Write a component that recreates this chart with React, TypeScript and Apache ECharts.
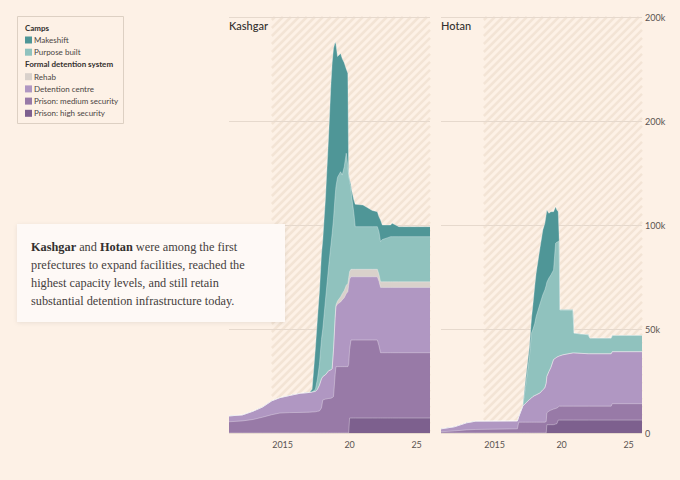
import React, { useEffect, useRef } from "react";
import * as echarts from "echarts";

// ---------- data ----------
const LAYER_NAMES = [
  "Prison: high security",
  "Prison: medium security",
  "Detention centre",
  "Rehab",
  "Purpose built",
  "Makeshift",
];
const LAYER_COLORS = ["#7d608e", "#987aa7", "#b097c2", "#d9d1cb", "#90c2be", "#4f9697"];

const CAMP_LEGEND = ["Makeshift", "Purpose built"];
const FORMAL_LEGEND = ["Rehab", "Detention centre", "Prison: medium security", "Prison: high security"];

const PANEL_TITLES = ["Kashgar", "Hotan"];

const X_TICKS = [2015, 2020, 2025];
const X_TICK_LABELS = ["2015", "20", "25"];
const Y_TICKS = [0, 50, 100, 150, 200];
const Y_TICK_LABELS = ["0", "50k", "100k", "200k", "200k"];

const X_MIN = 2011;
const X_MAX = 2026;
const Y_MAX = 200;
const HATCH_START = 2014.2;

// Kashgar (thousands of places, per layer)
const KASHGAR_YEARS = [
  2011.0, 2012.0, 2012.8, 2013.5, 2014.2, 2014.8, 2015.5, 2016.3, 2017.0, 2017.2,
  2017.45, 2017.6, 2017.75, 2017.9, 2018.0, 2018.2, 2018.45, 2018.6, 2018.7, 2018.8,
  2018.92, 2018.98, 2019.1, 2019.33, 2019.45, 2019.6, 2019.75, 2019.87, 2019.93, 2020.0,
  2020.1, 2020.15, 2020.32, 2020.42, 2021.0, 2021.69, 2022.07, 2022.19, 2022.31, 2022.44,
  2022.8, 2023.06, 2023.18, 2023.68, 2026.0,
];
const KASHGAR_HIGH = [
  0, 0, 0, 0, 0, 0, 0, 0, 0, 0,
  0, 0, 0, 0, 0, 0, 0, 0, 0, 0,
  0, 0, 0, 0, 0, 0, 0, 0, 0, 7.2,
  7.2, 7.2, 7.2, 7.2, 7.2, 7.2, 7.2, 7.2, 7.2, 7.2,
  7.2, 7.2, 7.2, 7.2, 7.2,
];
const KASHGAR_MEDIUM = [
  5.4, 5.8, 6.5, 7.6, 8.8, 9.6, 9.8, 9.9, 10.0, 10.1,
  10.2, 10.4, 10.6, 12, 15.9, 16.3, 16.6, 16.7, 17, 17.5,
  28, 31.9, 31.9, 31.9, 31.9, 31.9, 31.9, 31.9, 33, 32.8,
  37.5, 37.5, 37.5, 37.5, 37.5, 37.5, 37.5, 34.8, 31.4, 31.4,
  31.4, 31.4, 31.4, 31.4, 31.4,
];
const KASHGAR_DETENTION = [
  2.8, 2.9, 4.0, 4.9, 6.7, 7.4, 8.2, 9.2, 9.5, 9.6,
  9.8, 10.6, 12.4, 14, 11.2, 11.7, 13.4, 13.6, 14, 22.5,
  27, 28.8, 30.1, 31.1, 32.1, 33.1, 35.1, 36, 38, 34,
  30.4, 30.4, 30.4, 30.4, 30.4, 30.4, 30.4, 31, 31.4, 31.4,
  31.4, 31.4, 31.4, 31.4, 31.4,
];
const KASHGAR_REHAB = [
  0, 0, 0, 0, 0, 0, 0, 0, 0, 0,
  0, 0, 0, 0, 0, 0, 0, 0, 0, 0.3,
  0.7, 0.8, 1.5, 2.5, 3, 3.5, 4, 4, 3.6, 3.6,
  3.6, 3.6, 3.6, 3.6, 3.6, 3.6, 3.6, 3.3, 2.7, 2.7,
  2.7, 2.7, 2.7, 2.7, 2.7,
];
const KASHGAR_PURPOSE = [
  0, 0, 0, 0, 0, 0, 0, 0, 0, 0,
  1, 5, 10, 19, 22.9, 36, 51, 59.7, 65, 62.7,
  58.3, 56.9, 59.5, 60.1, 57, 59.5, 63.5, 56.1, 49.4, 43.4,
  39.3, 35.1, 26.9, 20.5, 20.5, 20.5, 20.5, 20.5, 19.3, 20.3,
  21.1, 21.7, 21.7, 21.7, 21.7,
];
const KASHGAR_MAKESHIFT = [
  0, 0, 0, 0, 0, 0, 0, 0, 0, 1.3,
  20, 29, 35, 41, 43, 49, 64, 77, 82, 82,
  74, 68.6, 58, 56.9, 56, 50, 40.5, 45, 0.5, 1,
  1.5, 3.2, 6.4, 10.8, 10.4, 7.8, 7.2, 7.2, 10.4, 7,
  6.2, 5.6, 6.4, 4.8, 4.8,
];

// Hotan (thousands of places, per layer)
const HOTAN_YEARS = [
  2011.0, 2012.0, 2012.9, 2013.6, 2016.7, 2016.8, 2017.1, 2017.3, 2017.6, 2017.75,
  2017.87, 2018.0, 2018.1, 2018.4, 2018.6, 2018.75, 2018.85, 2018.9, 2019.05, 2019.2,
  2019.4, 2019.55, 2019.65, 2019.75, 2019.82, 2019.87, 2020.1, 2020.85, 2020.92, 2022.0,
  2022.1, 2023.7, 2023.78, 2026.0,
];
const HOTAN_HIGH = [
  0, 0, 0, 0, 0, 0, 0, 0, 0, 0,
  0, 0, 0, 0, 0, 0, 0, 4, 4, 4,
  4, 4.3, 4.5, 6.2, 6.2, 6.2, 6.2, 6.2, 6.2, 6.2,
  6.2, 6.2, 6.2, 6.2,
];
const HOTAN_MEDIUM = [
  0.6, 1.0, 1.5, 1.7, 2.0, 5.2, 5.2, 5.2, 5.2, 5.2,
  5.2, 5.2, 5.2, 5.2, 5.2, 5.2, 5.5, 5.7, 6.5, 7,
  7.5, 7.5, 7.5, 6.3, 6.7, 6.7, 6.7, 6.7, 6.7, 6.7,
  6.7, 6.7, 7.9, 7.9,
];
const HOTAN_DETENTION = [
  1.4, 2.0, 3.4, 4.0, 3.8, 2.6, 7.7, 9.0, 10.9, 11.6,
  12.4, 12.8, 13.1, 14.1, 15.6, 16.5, 18.5, 17.5, 19, 20.5,
  23.8, 24.2, 24.5, 24.3, 24.1, 24.2, 24.7, 25.6, 25.6, 25.2,
  25.2, 25.2, 25.0, 25.0,
];
const HOTAN_REHAB = [
  0, 0, 0, 0, 0, 0, 0, 0, 0, 0,
  0, 0, 0, 0, 0, 0, 0, 0, 0, 0,
  0, 0, 0, 0, 0, 0, 0, 0, 0, 0,
  0, 0, 0, 0,
];
const HOTAN_PURPOSE = [
  0, 0, 0, 0, 0, 0, 0, 7.8, 20.7, 31.2,
  32.4, 34.8, 37.7, 43.1, 45.7, 47.1, 47, 45.3, 45, 44.5,
  43.1, 55.2, 55.3, 55.2, 55.5, 22.1, 21.6, 20.7, 9.5, 9.1,
  7.5, 7.5, 7.8, 7.8,
];
const HOTAN_MAKESHIFT = [
  0, 0, 0, 0, 0, 0, 0, 3, 4.8, 7,
  12.4, 18.2, 20.8, 27.2, 31.1, 32, 34, 34.7, 31.1, 30.4,
  28, 17.6, 15.4, 14.4, 0.5, 0, 0, 0, 0, 0,
  0, 0, 0, 0,
];

const PANELS = [
  {
    years: KASHGAR_YEARS,
    layers: [KASHGAR_HIGH, KASHGAR_MEDIUM, KASHGAR_DETENTION, KASHGAR_REHAB, KASHGAR_PURPOSE, KASHGAR_MAKESHIFT],
  },
  {
    years: HOTAN_YEARS,
    layers: [HOTAN_HIGH, HOTAN_MEDIUM, HOTAN_DETENTION, HOTAN_REHAB, HOTAN_PURPOSE, HOTAN_MAKESHIFT],
  },
];

const NOTE_TEXT =
  "{b|Kashgar} and {b|Hotan} were among the first\nprefectures to expand facilities, reached the\nhighest capacity levels, and still retain\nsubstantial detention infrastructure today.";

// ---------- styles ----------
const BG = "#fdf1e6";
const GRID_COLOR = "#e6d9cd";
const HATCH_COLOR = "#f3e4d5";
const TEXT_DARK = "#33302e";
const TEXT_MID = "#5a5350";
const SANS = "Lato, 'Noto Sans', sans-serif";
const SERIF = "'Liberation Serif', 'DejaVu Serif', serif";

export default function App() {
  const ref = useRef<HTMLDivElement>(null);

  useEffect(() => {
    if (!ref.current) return;
    const chart = echarts.init(ref.current, undefined, { renderer: "svg" });

    const grids = [
      { left: 229, top: 17, width: 201, height: 416 },
      { left: 441, top: 17, width: 201, height: 416 },
    ];

    // stacked layers: each layer's band sits on the running total of the layers below it;
    // the tallest totals are drawn first so lower bands paint over them.
    const series: any[] = [];
    PANELS.forEach((panel, p) => {
      const totals: number[][] = [];
      panel.layers.forEach((vals, j) => {
        totals.push(vals.map((v, i) => v + (j > 0 ? totals[j - 1][i] : 0)));
      });
      for (let j = panel.layers.length - 1; j >= 0; j--) {
        series.push({
          type: "line",
          name: LAYER_NAMES[j],
          xAxisIndex: p,
          yAxisIndex: p,
          data: panel.years.map((t, i) => [t, +totals[j][i].toFixed(2)]),
          symbol: "none",
          showSymbol: false,
          silent: true,
          emphasis: { disabled: true },
          lineStyle: { width: 0.8, color: "rgba(255,255,255,0.4)" },
          areaStyle: { color: LAYER_COLORS[j], opacity: 1 },
          itemStyle: { color: LAYER_COLORS[j] },
          z: 2,
        });
      }
    });

    const legendCommon = {
      orient: "vertical",
      left: 25,
      itemWidth: 7,
      itemHeight: 7,
      itemGap: 0.2,
      icon: "rect",
      selectedMode: false,
      padding: 0,
      textStyle: {
        fontFamily: SANS,
        fontSize: 8,
        lineHeight: 12,
        color: "#4a4542",
        padding: [0, 0, 0, -3],
      },
    };

    chart.setOption({
      backgroundColor: BG,
      animation: false,
      textStyle: { fontFamily: SANS },
      grid: grids,
      legend: [
        { ...legendCommon, top: 34, data: CAMP_LEGEND },
        { ...legendCommon, top: 70.7, data: FORMAL_LEGEND },
      ],
      xAxis: grids.map((_, i) => ({
        type: "value",
        gridIndex: i,
        min: X_MIN,
        max: X_MAX,
        axisLine: { show: false },
        axisTick: { show: false },
        splitLine: { show: false },
        axisLabel: {
          customValues: X_TICKS,
          formatter: (v: number) => {
            const k = X_TICKS.indexOf(v);
            return k >= 0 ? X_TICK_LABELS[k] : "";
          },
          color: TEXT_MID,
          fontFamily: SANS,
          fontSize: 9,
          margin: 7,
        },
      })),
      yAxis: grids.map((_, i) => ({
        type: "value",
        gridIndex: i,
        min: 0,
        max: Y_MAX,
        interval: 50,
        position: "right",
        axisLine: { show: false },
        axisTick: { show: false },
        splitLine: { show: true, lineStyle: { color: GRID_COLOR, width: 1 } },
        axisLabel: {
          show: i === 1,
          formatter: (v: number) => {
            const k = Y_TICKS.indexOf(v);
            return k >= 0 ? Y_TICK_LABELS[k] : "";
          },
          color: TEXT_MID,
          fontFamily: SANS,
          fontSize: 9,
          margin: 3,
        },
      })),
      series,
    });

    // decorations placed with the axes' own pixel mapping
    const graphics: any[] = [];
    const HATCH_STEP = 8;
    grids.forEach((_, i) => {
      const a = chart.convertToPixel({ gridIndex: i } as any, [HATCH_START, Y_MAX]) as number[];
      const b = chart.convertToPixel({ gridIndex: i } as any, [X_MAX, 0]) as number[];
      const x0 = a[0], y0 = a[1], x1 = b[0], y1 = b[1];
      for (let c = x0 + y0 + 3; c < x1 + y1; c += HATCH_STEP) {
        const xa = Math.max(x0, c - y1);
        const xb = Math.min(x1, c - y0);
        if (xb - xa > 0.5) {
          graphics.push({
            type: "line",
            silent: true,
            z: -1,
            shape: { x1: xa, y1: c - xa, x2: xb, y2: c - xb },
            style: { stroke: HATCH_COLOR, lineWidth: 2.5 },
          });
        }
      }
      const tl = chart.convertToPixel({ gridIndex: i } as any, [X_MIN, Y_MAX]) as number[];
      graphics.push({
        type: "text",
        silent: true,
        z: 5,
        x: tl[0],
        y: tl[1] + 8,
        style: {
          text: PANEL_TITLES[i],
          fill: TEXT_DARK,
          font: `500 11px ${SANS}`,
          verticalAlign: "middle",
          align: "left",
        },
      });
    });

    // legend frame and headers
    graphics.push({
      type: "rect",
      silent: true,
      z: 5,
      shape: { x: 17.5, y: 16.5, width: 106, height: 107 },
      style: { fill: "none", stroke: "#ddd0c3", lineWidth: 1 },
    });
    graphics.push({
      type: "text",
      silent: true,
      z: 5,
      x: 25,
      y: 27.8,
      style: { text: "Camps", fill: TEXT_DARK, font: `bold 8px ${SANS}`, verticalAlign: "middle" },
    });
    graphics.push({
      type: "text",
      silent: true,
      z: 5,
      x: 25,
      y: 64.4,
      style: {
        text: "Formal detention system",
        fill: TEXT_DARK,
        font: `bold 8px ${SANS}`,
        verticalAlign: "middle",
      },
    });

    // annotation box
    graphics.push({
      type: "rect",
      silent: true,
      z: 10,
      shape: { x: 17, y: 224, width: 268, height: 98 },
      style: {
        fill: "#fef9f6",
        shadowBlur: 4,
        shadowColor: "rgba(0,0,0,0.08)",
        shadowOffsetY: 1,
      },
    });
    graphics.push({
      type: "text",
      silent: true,
      z: 11,
      x: 31,
      y: 237.7,
      style: {
        text: NOTE_TEXT,
        fill: "#45403d",
        fontFamily: SERIF,
        fontSize: 12.3,
        lineHeight: 18,
        verticalAlign: "top",
        rich: {
          b: {
            fontFamily: SERIF,
            fontSize: 12.3,
            fontWeight: "bold",
            lineHeight: 18,
            fill: TEXT_DARK,
          },
        },
      },
    });

    chart.setOption({ graphic: graphics });

    return () => chart.dispose();
  }, []);

  return (
    <div
      ref={ref}
      style={{ position: "absolute", left: 0, top: 0, width: 680, height: 480 }}
    />
  );
}
